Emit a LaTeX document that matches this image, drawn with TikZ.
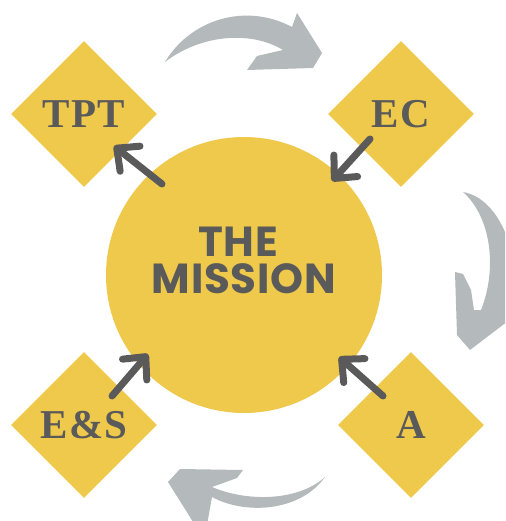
\documentclass[tikz,border=0pt]{standalone}
\usepackage{fontspec}
\usetikzlibrary{shapes.geometric,arrows.meta}
\newfontfamily\labelfont[LetterSpace=3]{Liberation Serif}
\newfontfamily\titlefont[LetterSpace=2]{Poppins}
\definecolor{gold}{HTML}{EFC94C}
\definecolor{ink}{HTML}{5A5A5A}
\definecolor{cloud}{HTML}{B4B9BC}
\begin{document}
\begin{tikzpicture}[x=1pt,y=-1pt,
  petal/.style={diamond, fill=gold, minimum width=146pt, minimum height=146pt, inner sep=0pt, text=ink, font=\labelfont\bfseries\fontsize{41}{43}\selectfont},
  core/.style={circle, fill=gold, minimum size=276pt, inner sep=0pt},
  coretext/.style={text=ink, inner sep=0pt, font=\titlefont\bfseries\fontsize{42}{44}\selectfont},
  push/.style={draw=ink, line width=7pt, line cap=round, -{Straight Barb[length=17pt,width=32pt,round]}},
  swirl/.style={fill=cloud}]
\useasboundingbox (0,0) rectangle (505,521);
\clip (0,0) rectangle (505,521);

% curved grey arrows
\path[swirl] (165,62) .. controls (190,20) and (245,2) .. (292,27)
  -- (297,13) -- (322,53) -- (313,68) -- (247,70) -- (257,56) -- (283,50)
  .. controls (250,30) and (200,35) .. (165,62) -- cycle;
\path[swirl] (463,192) .. controls (498,198) and (520,250) .. (514,300)
  -- (512,318) -- (470,350) -- (457,335) -- (455,272) -- (463,274) -- (471,290) -- (474,310) -- (481,310)
  .. controls (497,270) and (492,218) .. (463,192) -- cycle;
\path[swirl] (325,477) .. controls (300,500) and (250,503) .. (212,487)
  -- (237,478) -- (243,470) -- (180,469) -- (168,482) -- (195,525) -- (207,525) -- (212,497)
  .. controls (245,515) and (300,512) .. (325,477) -- cycle;

% main shapes
\node[core] (mission) at (244,275) {};
\node[coretext, anchor=base] (titleA) at (238,256) {THE};
\node[coretext, anchor=base] (titleB) at (244,293) {MISSION};
\node[petal] (tpt) at (84,114) {TPT};
\node[petal] (ec) at (401,114) {EC};
\node[petal] (es) at (84,425) {E\&S};
\node[petal] (a) at (411,425) {A};

% arrow end points
\coordinate (tptTail) at (162,184);
\coordinate (tptTip) at (114,146);
\coordinate (ecTail) at (370,139);
\coordinate (ecTip) at (332,181);
\coordinate (esTail) at (112,396);
\coordinate (esTip) at (148,354);
\coordinate (aTail) at (383,396);
\coordinate (aTip) at (339,357);

\draw[push] (tptTail) -- (tptTip);
\draw[push] (ecTail) -- (ecTip);
\draw[push] (esTail) -- (esTip);
\draw[push] (aTail) -- (aTip);
\end{tikzpicture}
\end{document}
